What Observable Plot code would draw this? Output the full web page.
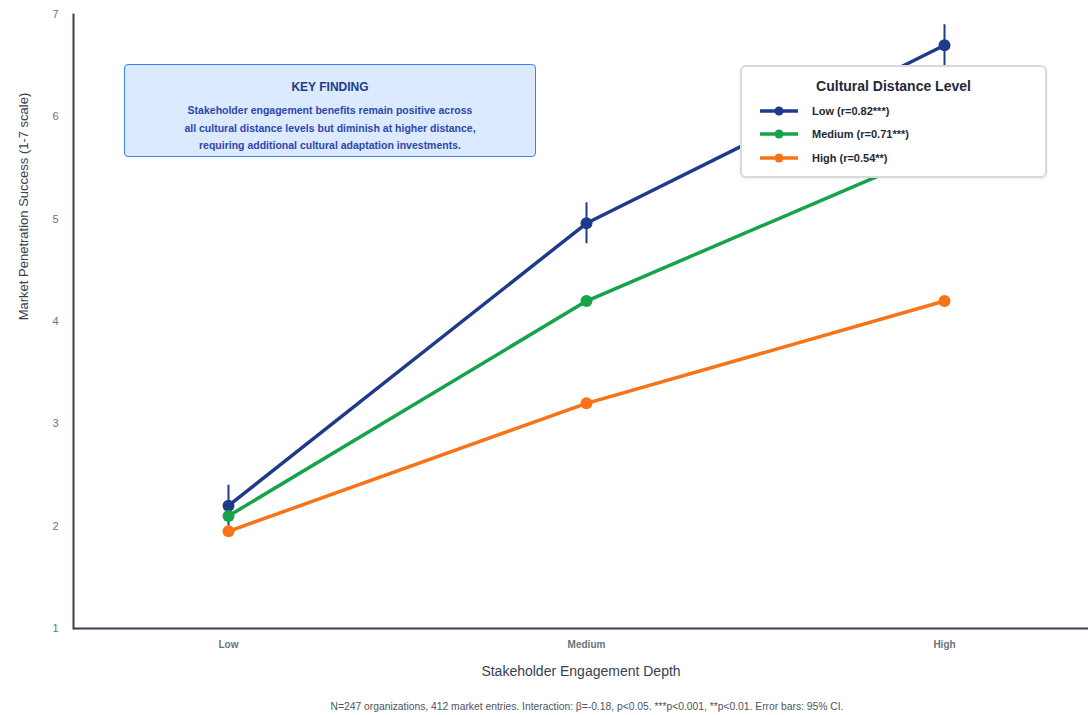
<!DOCTYPE html>
<html>
<head>
<meta charset="utf-8">
<script src="https://cdn.jsdelivr.net/npm/d3@7"></script>
<script src="https://cdn.jsdelivr.net/npm/@observablehq/plot@0.6"></script>
<style>
  html, body { margin: 0; padding: 0; background: #fff; }
  body { font-family: "Liberation Sans", Arial, sans-serif; }
  #wrap { position: relative; width: 1088px; height: 715px; overflow: hidden; }
  #chart svg { display: block; }
  #caption { width: 1088px; height: 20px; line-height: 20px; padding-top: 2px; text-align: center; font-size: 10.3px; color: #4b5563; padding-left: 86px; box-sizing: border-box; }
  .key { position: absolute; left: 124px; top: 64px; width: 412px; height: 93px; box-sizing: border-box; background: #dbeafe; border: 1.5px solid #3b82f6; border-radius: 4px; text-align: center; }
  .key h3 { margin: 15px 0 8px 0; font-size: 12px; font-weight: bold; color: #1e3a8a; }
  .key p { margin: 0; font-size: 10.5px; font-weight: bold; line-height: 17.5px; color: #2f45b0; }
  .legend { position: absolute; left: 740px; top: 65px; width: 307px; height: 113px; box-sizing: border-box; background: #fff; border: 2px solid #d6d9de; border-radius: 6px; box-shadow: 0 1px 3px rgba(0,0,0,0.08); }
  .legend h4 { margin: 11px 0 5px 0; text-align: center; font-size: 14px; font-weight: bold; color: #1f2937; }
  .legend .row { display: flex; align-items: center; height: 23.5px; margin-left: 18px; font-size: 11px; font-weight: bold; color: #1f2937; }
  .legend .row svg { margin-right: 14px; }
</style>
</head>
<body>
<div id="wrap">
  <div id="chart"></div>
  <div id="caption"></div>
  <div class="key" id="key"></div>
  <div class="legend" id="legend"></div>
</div>
<script>
// Engagement depth categories (x axis)
const engagementLevels = ["Low", "Medium", "High"];
// Cultural distance series
const distanceLevels = ["Low", "Medium", "High"];
const seriesColors = ["#1e3a8a", "#16a34a", "#f97316"];
const correlations = ["0.82***", "0.71***", "0.54**"];
// Market penetration success values (1-7 scale)
const lowDistanceValues = [2.2, 4.96, 6.7];
const mediumDistanceValues = [2.1, 4.2, 5.7];
const highDistanceValues = [1.95, 3.2, 4.2];
// 95% CI half-widths for the low-distance series
const lowDistanceCI = [0.2, 0.2, 0.2];
const yTicks = [1, 2, 3, 4, 5, 6, 7];

const xTitle = "Stakeholder Engagement Depth";
const yTitle = "Market Penetration Success (1-7 scale)";
const captionText = "N=247 organizations, 412 market entries. Interaction: β=-0.18, p<0.05. ***p<0.001, **p<0.01. Error bars: 95% CI.";
const keyTitle = "KEY FINDING";
const keyLines = [
  "Stakeholder engagement benefits remain positive across",
  "all cultural distance levels but diminish at higher distance,",
  "requiring additional cultural adaptation investments."
];
const legendTitle = "Cultural Distance Level";

const valueSets = [lowDistanceValues, mediumDistanceValues, highDistanceValues];
const data = [];
distanceLevels.forEach((d, si) => {
  engagementLevels.forEach((e, i) => {
    data.push({ series: d, engagement: e, value: valueSets[si][i] });
  });
});
const errData = engagementLevels.map((e, i) => ({
  engagement: e, lo: lowDistanceValues[i] - lowDistanceCI[i], hi: lowDistanceValues[i] + lowDistanceCI[i]
}));

const colorFor = s => seriesColors[distanceLevels.indexOf(s)];

const marks = [
  Plot.ruleY([1], { stroke: "#374151", strokeWidth: 2 }),
  Plot.frame({ anchor: "left", stroke: "#374151", strokeWidth: 2 }),
  Plot.axisY({ ticks: yTicks, tickFormat: d3.format("d"), tickSize: 0, tickPadding: 15, fill: "#6b7280", fontSize: 11, label: null }),
  Plot.axisX({ tickSize: 0, tickPadding: 12, fill: "#6b7280", fontSize: 10, fontWeight: "bold", label: null }),
  Plot.text([xTitle], { frameAnchor: "bottom", dy: 47, fontSize: 14, fill: "#374151", text: d => d }),
  Plot.text([yTitle], { frameAnchor: "top-left", textAnchor: "middle", dx: -55, dy: 192, rotate: -90, fontSize: 13, fill: "#374151", text: d => d })
];
distanceLevels.forEach(s => {
  const sub = data.filter(d => d.series === s);
  marks.push(Plot.line(sub, { x: "engagement", y: "value", stroke: colorFor(s), strokeWidth: 3.5 }));
  if (s === distanceLevels[0]) {
    marks.push(Plot.ruleX(errData, { x: "engagement", y1: "lo", y2: "hi", stroke: colorFor(s), strokeWidth: 2 }));
  }
  marks.push(Plot.dot(sub, { x: "engagement", y: "value", fill: colorFor(s), r: 6 }));
});

const chart = Plot.plot({
  width: 1088,
  height: 695,
  marginLeft: 73,
  marginRight: 0,
  marginTop: 14,
  marginBottom: 67,
  style: { fontFamily: "Liberation Sans, Arial, sans-serif", background: "#fff" },
  x: { type: "point", domain: engagementLevels, range: [227, 944], padding: 0 },
  y: { domain: [1, 7] },
  marks
});
document.getElementById("chart").appendChild(chart);
document.getElementById("caption").textContent = captionText;

const key = document.getElementById("key");
const h3 = document.createElement("h3"); h3.textContent = keyTitle; key.appendChild(h3);
keyLines.forEach(l => { const p = document.createElement("p"); p.textContent = l; key.appendChild(p); });

const legend = document.getElementById("legend");
const h4 = document.createElement("h4"); h4.textContent = legendTitle; legend.appendChild(h4);
distanceLevels.forEach((s, i) => {
  const row = document.createElement("div"); row.className = "row";
  const c = seriesColors[i];
  row.innerHTML = `<svg width="38" height="10"><line x1="0" y1="5" x2="38" y2="5" stroke="${c}" stroke-width="3.5"/><circle cx="19" cy="5" r="4.5" fill="${c}"/></svg>`;
  const span = document.createElement("span"); span.textContent = `${s} (r=${correlations[i]})`;
  row.appendChild(span);
  legend.appendChild(row);
});
</script>
</body>
</html>
